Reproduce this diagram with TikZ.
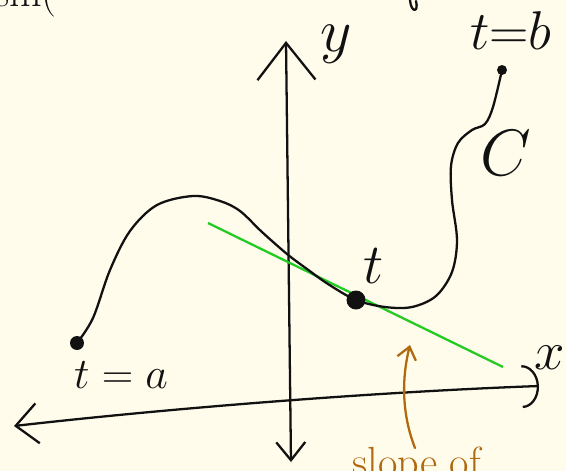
\documentclass[tikz,border=0pt]{standalone}
\usepackage{tikz}
\usetikzlibrary{arrows.meta,positioning,calc}
\definecolor{pcpaper}{HTML}{FFFCEC}
\definecolor{pcink}{HTML}{111111}
\definecolor{pcgreen}{HTML}{22CC22}
\definecolor{pcbrown}{HTML}{B0690F}

\begin{document}
\begin{tikzpicture}[x=0.02cm,y=-0.02cm,
    pen/.style={pcink,line width=1.3pt,line cap=round,line join=round},
    lbl/.style={pcink,inner sep=0pt,font=\fontsize{24}{28}\selectfont},
    dot/.style={circle,fill=pcink,inner sep=0pt,minimum size=#1}]
  % paper
  \fill[pcpaper] (0,0) rectangle (566,471);
  \useasboundingbox (0,0) rectangle (566,471);
  % bits of text cut by the page edge
  \node[lbl,anchor=base west] (cut) at (-6,6) {sin(};
  \draw[pen] (410,0) .. controls (411,13) and (419,13) .. (416,1);
  % axes
  \coordinate (ybot) at (291,462);
  \coordinate (ytop) at (286,41);
  \coordinate (xleft) at (14,426);
  \coordinate (xright) at (539,386);
  \draw[pen,{Straight Barb[length=3.6mm,width=5.8mm]}-{Straight Barb[length=7.4mm,width=11.6mm]}] (ybot) -- (ytop);
  \draw[pen,{Straight Barb[length=4.4mm,width=8mm]}-{Arc Barb[length=3.4mm,width=8.6mm]}] (xleft) .. controls (200,405) and (400,391) .. (xright);
  \node[lbl,scale=1.4] (ylab) at (336,44) {$y$};
  \node[lbl,scale=1.25] (xlab) at (550,358) {$x$};
  % tangent line
  \coordinate (tanA) at (208,223);
  \coordinate (tanB) at (503,367);
  \draw[pcgreen,line width=1.3pt] (tanA) -- (tanB);
  % the curve C
  \node[dot=0.28cm] (ta) at (77,343) {};
  \node[dot=0.38cm] (tp) at (356,300) {};
  \node[dot=0.2cm] (tb) at (502,70) {};
  \draw[pen] plot[smooth,tension=0.55] coordinates {(77,343) (93,318) (110,270) (130,231) (157,205) (193,196) (220,201) (240,211) (262,232) (287,254) (307,269) (328,284) (356,300) (385,307) (412,307) (436,296) (452,272) (457,240) (452,200) (451,166) (458,143) (472,130) (485,124) (493,107) (502,70)};
  \node[lbl,scale=1.3] (tlab) at (374,266) {$t$};
  \node[lbl] (talab) at (121,375) {$t = a$};
  \node[lbl,scale=1.25] (tblab) at (511,31) {$t{=}b$};
  \node[lbl,scale=1.5] (clab) at (506,153) {$C$};
  % note
  \node[lbl,pcbrown,anchor=base west] (slope) at (352,476) {slope of};
  \coordinate (noteS) at (415,448);
  \coordinate (noteT) at (410,345);
  \draw[pcbrown,line width=1.3pt,line cap=round,-{Straight Barb[length=2.4mm,width=3.8mm]}] (noteS) .. controls (404,420) and (400,385) .. (noteT);
\end{tikzpicture}
\end{document}
